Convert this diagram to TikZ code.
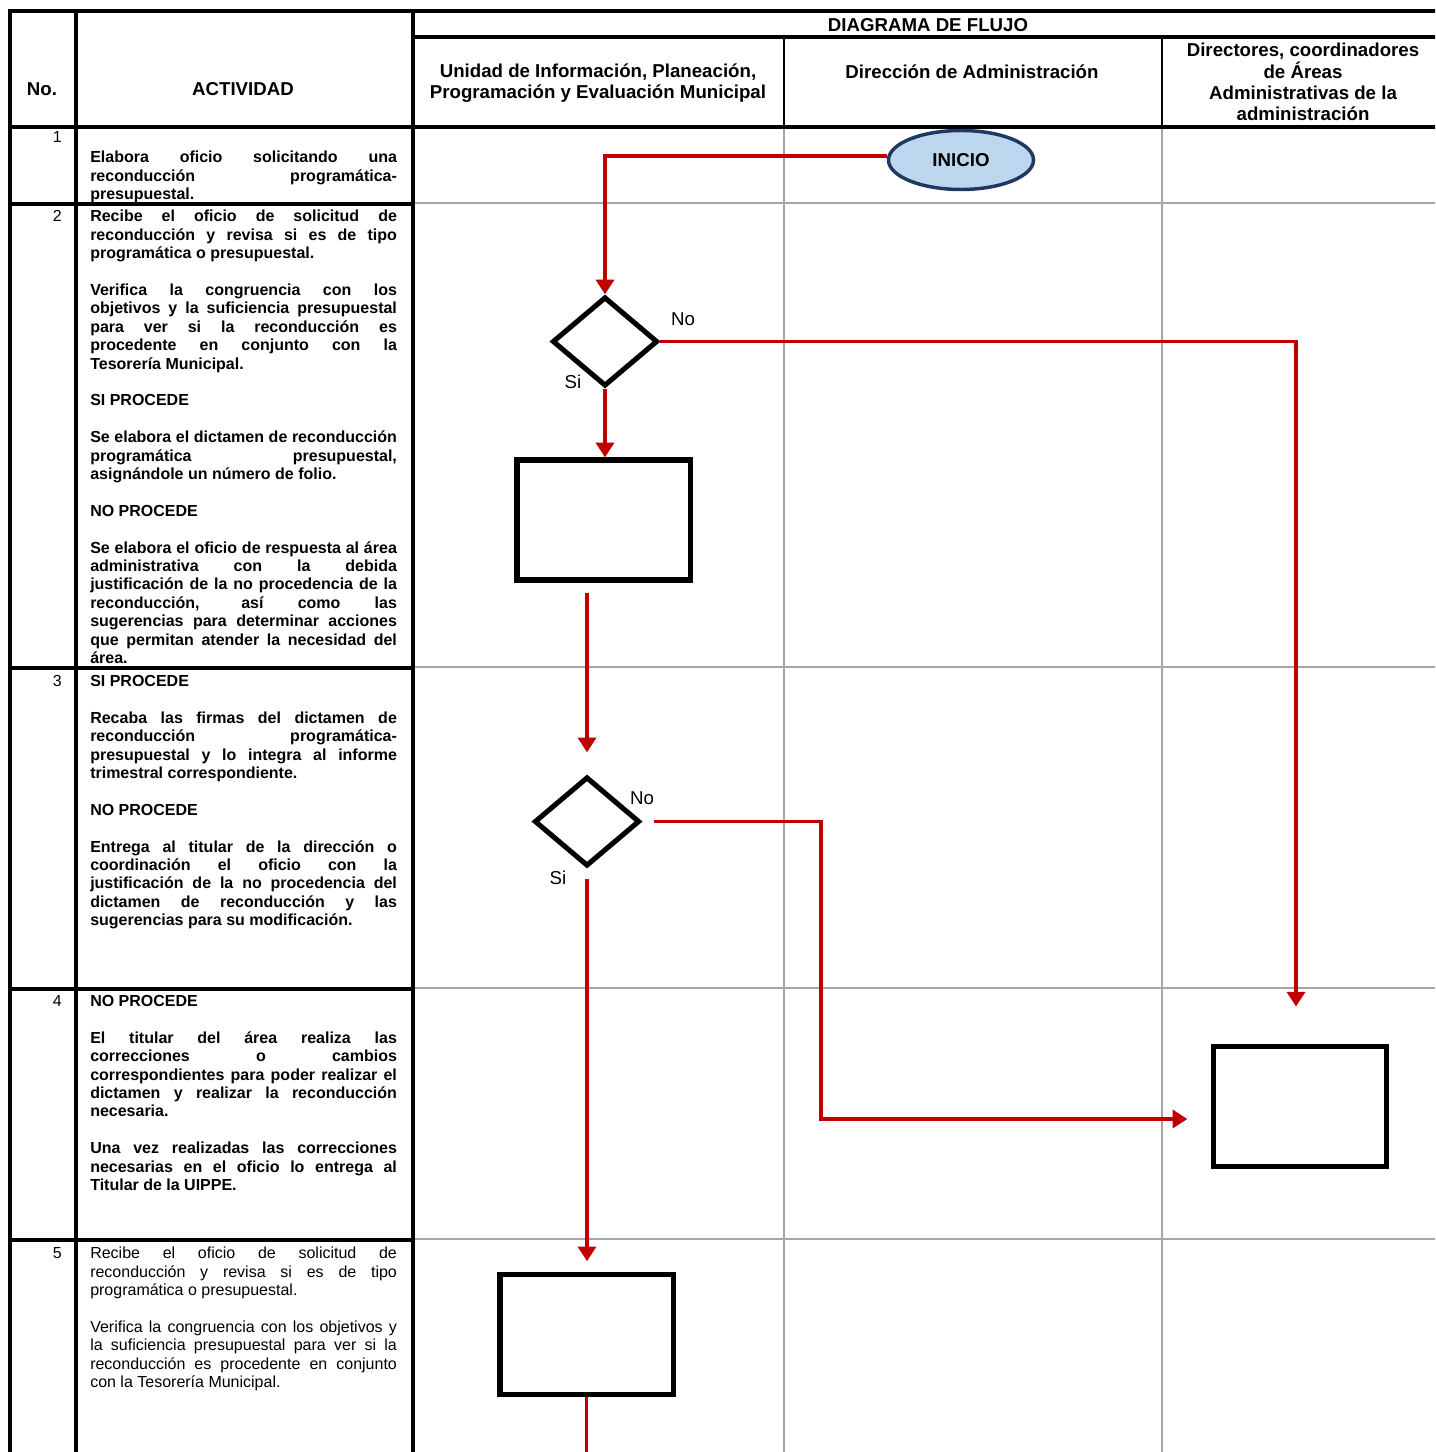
\documentclass[tikz,border=0pt]{standalone}
\usepackage{fontspec}
\setmainfont{Liberation Sans}
\usetikzlibrary{arrows.meta,positioning,calc,shapes.geometric}
\definecolor{flowred}{HTML}{C00000}
\definecolor{inifill}{HTML}{BDD7EE}
\definecolor{iniedge}{HTML}{1F3864}
\definecolor{gridgray}{HTML}{A6A6A6}

\begin{document}
\begin{tikzpicture}[x=0.75pt,y=-0.75pt,>={Triangle[length=11pt,width=13.5pt]},
 hdr/.style={font=\fontsize{14}{16}\selectfont\bfseries,align=center,inner sep=0pt},
 num/.style={anchor=base east,inner sep=0pt,font=\fontsize{12}{13.8}\selectfont},
 act/.style={anchor=north west,inner sep=0pt,text width=230pt,align=justify,
  font={\fontsize{12}{13.8}\selectfont\bfseries\parskip=13.8pt\tolerance=10000\hyphenpenalty=10000}},
 actn/.style={act,font={\fontsize{12}{13.8}\selectfont\parskip=13.8pt\tolerance=10000\hyphenpenalty=10000}},
 tabline/.style={line width=3pt},
 lane/.style={draw=gridgray,line width=1.2pt},
 proc/.style={draw,line width=4pt,minimum width=130pt,minimum height=90pt,inner sep=0pt},
 dec/.style={diamond,draw,line width=3.8pt,minimum width=79pt,minimum height=67pt,inner sep=0pt},
 flow/.style={->,draw=flowred,line width=2.6pt},
 lbl/.style={font=\fontsize{14}{16}\selectfont,inner sep=0pt}]
\useasboundingbox (0,0) rectangle (1435,1452);
\clip (0,0) rectangle (1435,1452);
% table
\draw[lane] (784,127) -- (784,1460) (1162,127) -- (1162,1460);
\foreach \y in {203,667,988,1239} \draw[lane] (413,\y) -- (1440,\y);
\draw[line width=1.5pt] (784,37) -- (784,127) (1162,37) -- (1162,127);
\foreach \y in {204,668,989,1240} \draw[tabline] (10,\y) -- (413,\y);
\draw[tabline] (10,1460) -- (10,11) -- (1440,11) (10,127) -- (1440,127) (413,37) -- (1440,37)
 (76,11) -- (76,1460) (413,11) -- (413,1460);
\node[hdr] (hno) at (42,89) {No.};
\node[hdr] (hact) at (243,89) {ACTIVIDAD};
\node[hdr] (hdf) at (928,25) {DIAGRAMA DE FLUJO};
\node[hdr] (h1) at (598,83) {Unidad de Información, Planeación,\\Programación y Evaluación Municipal};
\node[hdr] (h2) at (972,72) {Dirección de Administración};
\node[hdr] (h3) at (1303,82) {Directores, coordinadores\\de Áreas\\Administrativas de la\\administración};
\foreach \n/\y in {1/143,2/221,3/686,4/1006,5/1258} \node[num] (n\n) at (62,\y) {\n};
% actividades
\node[act] (a1) at (90,151) {Elabora oficio solicitando una\linebreak reconducción programática-\linebreak presupuestal.};
\node[act] (a2) at (90,210) {Recibe el oficio de solicitud de\linebreak reconducción y revisa si es de tipo\linebreak programática o presupuestal.\par
Verifica la congruencia con los\linebreak objetivos y la suficiencia presupuestal\linebreak para ver si la reconducción es\linebreak procedente en conjunto con la\linebreak Tesorería Municipal.\par
SI PROCEDE\par
Se elabora el dictamen de reconducción\linebreak programática presupuestal,\linebreak asignándole un número de folio.\par
NO PROCEDE\par
Se elabora el oficio de respuesta al área\linebreak administrativa con la debida\linebreak justificación de la no procedencia de la\linebreak reconducción, así como las\linebreak sugerencias para determinar acciones\linebreak que permitan atender la necesidad del\linebreak área.};
\node[act] (a3) at (90,675) {SI PROCEDE\par
Recaba las firmas del dictamen de\linebreak reconducción programática-\linebreak presupuestal y lo integra al informe\linebreak trimestral correspondiente.\par
NO PROCEDE\par
Entrega al titular de la dirección o\linebreak coordinación el oficio con la\linebreak justificación de la no procedencia del\linebreak dictamen de reconducción y las\linebreak sugerencias para su modificación.};
\node[act] (a4) at (90,995) {NO PROCEDE\par
El titular del área realiza las\linebreak correcciones o cambios\linebreak correspondientes para poder realizar el\linebreak dictamen y realizar la reconducción\linebreak necesaria.\par
Una vez realizadas las correcciones\linebreak necesarias en el oficio lo entrega al\linebreak Titular de la UIPPE.};
\node[actn] (a5) at (90,1247) {Recibe el oficio de solicitud de\linebreak reconducción y revisa si es de tipo\linebreak programática o presupuestal.\par
Verifica la congruencia con los objetivos y\linebreak la suficiencia presupuestal para ver si la\linebreak reconducción es procedente en conjunto\linebreak con la Tesorería Municipal.};
% diagrama
\node[ellipse,draw=iniedge,fill=inifill,line width=2.6pt,minimum width=108.75pt,minimum height=44.25pt,
 inner sep=0pt,font=\fontsize{14}{16}\selectfont\bfseries] (ini) at (961,160) {INICIO};
\node[dec] (d1) at (605,341.5) {};
\node[proc] (p1) at (603.5,520) {};
\node[dec] (d2) at (587,821.5) {};
\node[proc] (p2) at (1300,1106.5) {};
\node[proc] (p3) at (586.5,1334.5) {};
\node[lbl] (no1) at (683,319) {No};
\node[lbl] (si1) at (573,382) {Si};
\node[lbl] (no2) at (642,798) {No};
\node[lbl] (si2) at (558,878) {Si};
\coordinate (bend) at (821,1119);
\coordinate (fin) at (586.5,1470);
\draw[flow] (ini.177) -| (d1.north);
\draw[flow,shorten >=28pt] (d1.east) -| ([xshift=-3pt]p2.north);
\draw[flow] (d1.south) -- (d1.south |- p1.north);
\draw[flow,shorten <=8pt,shorten >=16.5pt] (p1.south -| d2.north) -- (d2.north);
\draw[flow,shorten <=8.5pt,shorten >=17.5pt] (d2.east) -| (bend) -- (bend -| p2.west);
\draw[flow,shorten <=8pt,shorten >=8pt] (d2.south) -- (d2.south |- p3.north);
\draw[flow,-] (p3.south) -- (fin);
\end{tikzpicture}
\end{document}
